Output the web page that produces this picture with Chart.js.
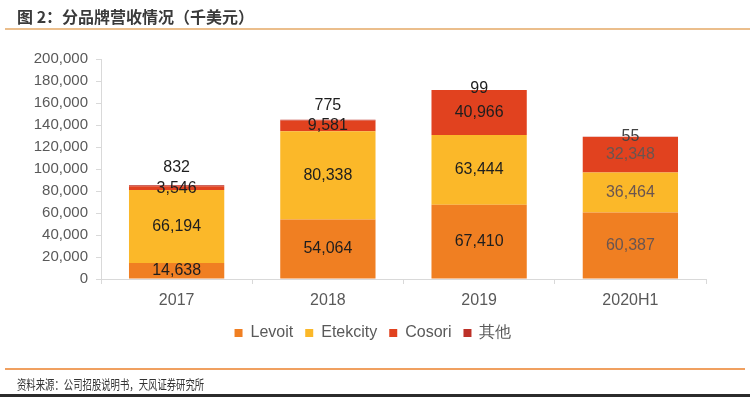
<!DOCTYPE html>
<html>
<head>
<meta charset="utf-8">
<script src="https://cdn.jsdelivr.net/npm/chart.js@4.4.0/dist/chart.umd.min.js"></script>
<style>
  body { margin: 0; background: #fff; }
  #wrap { position: relative; width: 750px; height: 397px; overflow: hidden; }
  #title { position: absolute; left: 17px; top: 4px; font: bold 16px "Noto Sans CJK SC", sans-serif; color: #3a3a3a; white-space: nowrap; }
  #topline { position: absolute; left: 5px; top: 28px; width: 745px; height: 2px; background: #EBBE8C; }
  #botline { position: absolute; left: 5px; top: 368px; width: 740px; height: 2px; background: #F0A060; }
  #source { position: absolute; left: 17px; top: 374px; font: 13px "Noto Sans CJK SC", sans-serif; color: #333; white-space: nowrap; transform: scaleX(0.72); transform-origin: left top; }
  #strip { position: absolute; left: 0; top: 394px; width: 750px; height: 3px; background: #2b2b2b; }
  #box { position: absolute; left: 0; top: 0; width: 750px; height: 397px; }
</style>
</head>
<body>
<div id="wrap">
  <div id="box"><canvas id="myChart"></canvas></div>
  <div id="title">图 2：分品牌营收情况（千美元）</div>
  <div id="topline"></div>
  <div id="botline"></div>
  <div id="source">资料来源：公司招股说明书，天风证券研究所</div>
  <div id="strip"></div>
</div>
<script>
// categories and series (thousand USD)
const years = ['2017', '2018', '2019', '2020H1']
const levoit = [14638, 54064, 67410, 60387]
const etekcity = [66194, 80338, 63444, 36464]
const cosori = [3546, 9581, 40966, 32348]
const others = [832, 775, 99, 55]

const fmt = v => v.toLocaleString('en-US')

// draws the value labels on the bars
const barLabels = {
  id: 'barLabels',
  afterDatasetsDraw(chart, args, opts) {
    const c = chart.ctx
    c.save()
    c.font = '16px "Liberation Sans", Arial, sans-serif'
    c.textAlign = 'center'
    c.textBaseline = 'middle'
    chart.data.datasets.forEach((ds, di) => {
      const meta = chart.getDatasetMeta(di)
      meta.data.forEach((bar, i) => {
        let y = (bar.y + bar.base) / 2
        if (di === 3) y = bar.y + opts.topShift[i]
        c.fillStyle = i === 3 && di < 3 ? '#6a5550' : (i === 3 ? '#444' : '#1e1e1e')
        c.fillText(fmt(ds.data[i]), bar.x, y)
      })
    })
    c.restore()
  }
}

var ctx = document.getElementById('myChart').getContext('2d')
var chart = new Chart(ctx, {
  type: 'bar',
  data: {
    labels: years,
    datasets: [
      { label: 'Levoit', data: levoit, backgroundColor: '#F07F22' },
      { label: 'Etekcity', data: etekcity, backgroundColor: '#FBB829' },
      { label: 'Cosori', data: cosori, backgroundColor: '#E1421F' },
      { label: '其他', data: others, backgroundColor: '#BD3128' }
    ]
  },
  plugins: [barLabels],
  options: {
    responsive: true,
    maintainAspectRatio: false,
    animation: false,
    layout: { padding: { left: 0, right: 4, top: 59, bottom: 46 } },
    datasets: { bar: { categoryPercentage: 1, barPercentage: 0.63 } },
    scales: {
      x: {
        stacked: true,
        afterFit: s => { s.height = 34 },
        grid: { drawOnChartArea: false, tickLength: 5, color: '#d9d9d9' },
        border: { color: '#d9d9d9' },
        ticks: { color: '#595959', padding: 7, font: { size: 16, family: '"Liberation Sans", Arial, sans-serif' } }
      },
      y: {
        stacked: true,
        min: 0,
        max: 200000,
        afterFit: s => { s.width = 101 },
        grid: { drawOnChartArea: false, tickLength: 5, color: '#d9d9d9' },
        border: { color: '#d9d9d9' },
        ticks: {
          stepSize: 20000,
          color: '#595959',
          padding: 8,
          font: { size: 15, family: '"Liberation Sans", Arial, sans-serif' },
          callback: v => fmt(v)
        }
      },
      // empty spacer on the right so the legend sits where the original has it
      pad: {
        position: 'right',
        afterFit: s => { s.width = 40 },
        grid: { display: false },
        border: { display: false },
        ticks: { display: false }
      }
    },
    plugins: {
      tooltip: { enabled: false },
      barLabels: { topShift: [-18, -14, -1, 0] },
      legend: {
        position: 'bottom',
        labels: {
          boxWidth: 8,
          boxHeight: 8,
          padding: 12,
          color: '#595959',
          font: { size: 16, family: '"Liberation Sans", Arial, sans-serif' }
        }
      }
    }
  }
})
</script>
</body>
</html>
